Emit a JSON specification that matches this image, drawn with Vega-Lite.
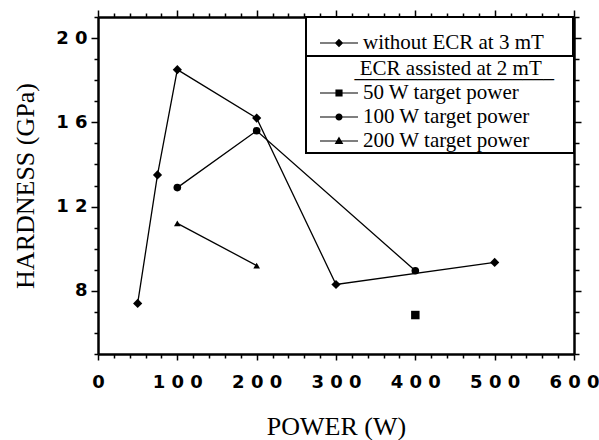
{
  "$schema": "https://vega.github.io/schema/vega-lite/v6.json",
  "width": 476,
  "height": 337,
  "autosize": "none",
  "padding": {"left": 98, "top": 17, "right": 25, "bottom": 86},
  "background": "white",
  "config": {
    "view": {"stroke": null},
    "axis": {"grid": false, "domainColor": "black", "domainWidth": 2.5, "tickColor": "black", "tickWidth": 1.5, "labelColor": "black", "titleColor": "black", "labelFont": "DejaVu Sans", "labelFontWeight": "bold", "labelFontSize": 17, "titleFont": "Liberation Serif", "titleFontWeight": "normal", "titleFontSize": 26, "labelOverlap": false, "labelFlush": false, "labelBound": false},
    "legend": {"strokeWidth": 2}
  },
  "data": {"values": [
    {"series": "without ECR at 3 mT", "power": 50, "hardness": 7.4},
    {"series": "without ECR at 3 mT", "power": 75, "hardness": 13.5},
    {"series": "without ECR at 3 mT", "power": 100, "hardness": 18.5},
    {"series": "without ECR at 3 mT", "power": 200, "hardness": 16.2},
    {"series": "without ECR at 3 mT", "power": 300, "hardness": 8.3},
    {"series": "without ECR at 3 mT", "power": 500, "hardness": 9.35},
    {"series": "50 W target power", "power": 400, "hardness": 6.85},
    {"series": "100 W target power", "power": 100, "hardness": 12.9},
    {"series": "100 W target power", "power": 200, "hardness": 15.6},
    {"series": "100 W target power", "power": 400, "hardness": 8.95},
    {"series": "200 W target power", "power": 100, "hardness": 11.2},
    {"series": "200 W target power", "power": 200, "hardness": 9.2}
  ]},
  "layer": [
    {
      "mark": {"type": "line", "color": "black", "strokeWidth": 1.3},
      "encoding": {
        "x": {"field": "power", "type": "quantitative", "scale": {"domain": [0, 600], "nice": false, "zero": false},
          "axis": {"orient": "bottom", "values": [0,20,40,60,80,100,120,140,160,180,200,220,240,260,280,300,320,340,360,380,400,420,440,460,480,500,520,540,560,580,600],
            "labelExpr": "datum.value % 100 == 0 ? replace(datum.label, regexp('([0-9])(?=[0-9])', 'g'), '$1 ') : ''",
            "tickSize": {"condition": {"test": "datum.value % 100 == 0", "value": 6}, "value": 4},
            "labelPadding": 13, "labelFontSize": 18, "title": "POWER (W)", "titlePadding": 22}},
        "y": {"field": "hardness", "type": "quantitative", "scale": {"domain": [5, 21], "nice": false, "zero": false},
          "axis": {"orient": "left", "values": [5,6,7,8,9,10,11,12,13,14,15,16,17,18,19,20,21],
            "labelExpr": "datum.value % 4 == 0 ? replace(datum.label, regexp('([0-9])(?=[0-9])', 'g'), '$1 ') : ''",
            "tickSize": {"condition": {"test": "datum.value % 4 == 0", "value": 7}, "value": 4},
            "labelPadding": 4, "labelFontSize": 18, "title": "HARDNESS (GPa)", "titlePadding": 17}},
        "detail": {"field": "series"}
      }
    },
    {
      "mark": {"type": "point", "filled": true, "color": "black", "opacity": 1},
      "encoding": {
        "x": {"field": "power", "type": "quantitative",
          "axis": {"orient": "top", "labels": false, "title": null, "values": [0,20,40,60,80,100,120,140,160,180,200,220,240,260,280,300,320,340,360,380,400,420,440,460,480,500,520,540,560,580,600],
            "tickSize": {"condition": {"test": "datum.value % 100 == 0", "value": 7}, "value": 4}}},
        "y": {"field": "hardness", "type": "quantitative",
          "axis": {"orient": "right", "labels": false, "title": null, "values": [5,6,7,8,9,10,11,12,13,14,15,16,17,18,19,20,21],
            "tickSize": {"condition": {"test": "datum.value % 4 == 0", "value": 7}, "value": 5}}},
        "shape": {"field": "series", "type": "nominal", "legend": null,
          "scale": {"domain": ["without ECR at 3 mT", "50 W target power", "100 W target power", "200 W target power"], "range": ["diamond", "square", "circle", "triangle-up"]}},
        "size": {"field": "series", "type": "ordinal", "legend": null,
          "scale": {"domain": ["without ECR at 3 mT", "50 W target power", "100 W target power", "200 W target power"], "range": [85, 45, 60, 55]}}
      }
    },
    {
      "transform": [{"filter": "datum.series == 'without ECR at 3 mT'"}],
      "mark": {"type": "point", "filled": false, "color": "black", "opacity": 0},
      "encoding": {
        "x": {"field": "power", "type": "quantitative", "axis": null},
        "y": {"field": "hardness", "type": "quantitative", "axis": null},
        "shape": {"field": "series", "type": "nominal",
          "scale": {"domain": ["without ECR at 3 mT"], "range": ["M-1.73,0L1.73,0M0,-0.31L0.31,0L0,0.31L-0.31,0ZM0,-0.21L0.21,0L0,0.21L-0.21,0ZM0,-0.11L0.11,0L0,0.11L-0.11,0Z"]},
          "legend": {"orient": "none", "legendX": 208, "legendY": 0, "title": " ", "titleFontSize": 8, "titlePadding": 3, "padding": 3,
            "strokeColor": "black", "fillColor": "white", "symbolSize": 484, "symbolOffset": 18, "labelOffset": 12,
            "symbolStrokeColor": "black", "symbolFillColor": "black", "symbolStrokeWidth": 1.2, "symbolOpacity": 1,
            "labelFont": "Liberation Serif", "labelFontSize": 21, "labelColor": "black", "labelLimit": 0,
            "labelExpr": "datum.label + '\u00a0\u00a0\u2800'"}}
      }
    },
    {
      "transform": [{"filter": "datum.series != 'without ECR at 3 mT'"}],
      "mark": {"type": "point", "filled": false, "color": "black", "opacity": 0},
      "encoding": {
        "x": {"field": "power", "type": "quantitative", "axis": null},
        "y": {"field": "hardness", "type": "quantitative", "axis": null},
        "shape": {"field": "series", "type": "nominal",
          "scale": {"domain": ["50 W target power", "100 W target power", "200 W target power"],
            "range": ["M-1.73,0L1.73,0M-0.27,-0.27L0.27,-0.27L0.27,0.27L-0.27,0.27ZM-0.17,-0.17L0.17,-0.17L0.17,0.17L-0.17,0.17ZM-0.07,-0.07L0.07,-0.07L0.07,0.07L-0.07,0.07Z", "M-1.73,0L1.73,0M-0.27,0A0.27,0.27,0,1,0,0.27,0A0.27,0.27,0,1,0,-0.27,0ZM-0.17,0A0.17,0.17,0,1,0,0.17,0A0.17,0.17,0,1,0,-0.17,0ZM-0.07,0A0.07,0.07,0,1,0,0.07,0A0.07,0.07,0,1,0,-0.07,0Z", "M-1.73,0L1.73,0M0,-0.3L0.3,0.22L-0.3,0.22ZM0,-0.18L0.2,0.16L-0.2,0.16ZM0,-0.07L0.1,0.1L-0.1,0.1Z"]},
          "legend": {"orient": "none", "legendX": 208, "legendY": 39,
            "title": ["\u2800\u00a0\u00a0\u00a0\u00a0\u00a0\u00a0\u00a0ECR assisted at 2 mT", "\u2800\u00a0\u00a0\u00a0\u00a0\u00a0\u00a0___________________"],
            "titleFont": "Liberation Serif", "titleFontSize": 21, "titleFontWeight": "normal", "titleColor": "black", "titleLineHeight": 2, "titlePadding": 0, "titleAnchor": "start", "titleLimit": 0,
            "padding": 2, "rowPadding": 2,
            "strokeColor": "black", "fillColor": "white", "symbolSize": 484, "symbolOffset": 19, "labelOffset": 12,
            "symbolStrokeColor": "black", "symbolFillColor": "black", "symbolStrokeWidth": 1.2, "symbolOpacity": 1,
            "labelFont": "Liberation Serif", "labelFontSize": 21, "labelColor": "black", "labelLimit": 0,
            "labelExpr": "datum.label + '\u00a0\u00a0\u00a0\u00a0\u00a0\u2800'"}}
      }
    }
  ],
  "resolve": {"scale": {"shape": "independent", "size": "independent"}, "legend": {"shape": "independent"}}
}
